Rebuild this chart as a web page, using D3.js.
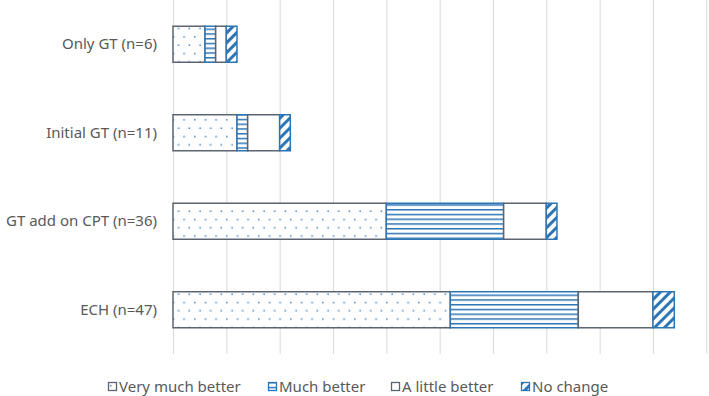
<!DOCTYPE html>
<html>
<head>
<meta charset="utf-8">
<script src="https://cdn.jsdelivr.net/npm/d3@7"></script>
<style>
  html, body { margin: 0; padding: 0; background: #fff; }
  svg { display: block; }
  text { font-family: "Noto Sans", "Open Sans", sans-serif; fill: #595959; }
</style>
</head>
<body>
<svg id="chart" width="709" height="396"></svg>
<script>
// ---- data ----
const categories = ["Only GT (n=6)", "Initial GT (n=11)", "GT add on CPT (n=36)", "ECH (n=47)"];
const seriesNames = ["Very much better", "Much better", "A little better", "No change"];
const veryMuchBetter = [3, 6, 20, 26];
const muchBetter = [1, 1, 11, 12];
const aLittleBetter = [1, 3, 4, 7];
const noChange = [1, 1, 1, 2];
const xTicks = [0, 5, 10, 15, 20, 25, 30, 35, 40, 45, 50];

const seriesValues = [veryMuchBetter, muchBetter, aLittleBetter, noChange];
const rows = categories.map((c, i) => {
  const r = { cat: c };
  seriesNames.forEach((s, j) => r[s] = seriesValues[j][i]);
  return r;
});

const svg = d3.select("#chart");
const defs = svg.append("defs");
const blue = "#2E75B6";
const gray = "#5B6470";

// patterns
const pDots = defs.append("pattern").attr("id", "pDots").attr("patternUnits", "userSpaceOnUse")
  .attr("width", 10.67).attr("height", 16.6);
pDots.append("rect").attr("width", 10.67).attr("height", 16.6).attr("fill", "#fff");
pDots.append("rect").attr("x", 2).attr("y", 3).attr("width", 1.4).attr("height", 1.4).attr("fill", blue);
pDots.append("rect").attr("x", 7.3).attr("y", 11.3).attr("width", 1.4).attr("height", 1.4).attr("fill", blue);

const pLines = defs.append("pattern").attr("id", "pLines").attr("patternUnits", "userSpaceOnUse")
  .attr("width", 8).attr("height", 4.75);
pLines.append("rect").attr("width", 8).attr("height", 4.75).attr("fill", "#fff");
pLines.append("rect").attr("y", 0).attr("width", 8).attr("height", 1.5).attr("fill", blue);

const pDiag = defs.append("pattern").attr("id", "pDiag").attr("patternUnits", "userSpaceOnUse")
  .attr("width", 7).attr("height", 7).attr("patternTransform", "rotate(45)");
pDiag.append("rect").attr("width", 7).attr("height", 7).attr("fill", "#fff");
pDiag.append("rect").attr("width", 3).attr("height", 7).attr("fill", blue);

const fills = ["url(#pDots)", "url(#pLines)", "#fff", "url(#pDiag)"];
const strokes = [gray, blue, gray, blue];

// scales
const x = d3.scaleLinear().domain([0, 50]).range([173, 706.3]);
const y = d3.scaleBand().domain(categories).range([0, 354]).paddingInner(0.593).paddingOuter(0.2965);

// gridlines
const grid = d3.axisBottom(x).tickValues(xTicks).tickSize(-354).tickFormat("");
const gG = svg.append("g").attr("transform", "translate(0,354)").call(grid);
gG.select(".domain").remove();
gG.selectAll(".tick line").attr("stroke", "#D9D9D9").attr("stroke-width", 1);

// stacked bars
const stack = d3.stack().keys(seriesNames)(rows);
stack.forEach((layer, j) => {
  svg.append("g").selectAll("rect").data(layer).join("rect")
    .attr("x", d => x(d[0]))
    .attr("y", d => y(d.data.cat))
    .attr("width", d => x(d[1]) - x(d[0]))
    .attr("height", y.bandwidth())
    .attr("fill", fills[j])
    .attr("stroke", strokes[j])
    .attr("stroke-width", 1.5);
});

// y labels
const yAxis = d3.axisLeft(y).tickSize(0).tickPadding(0);
const gY = svg.append("g").attr("transform", "translate(157,0)").call(yAxis);
gY.select(".domain").remove();
gY.selectAll("text").attr("font-size", 15).attr("font-family", "'Noto Sans', sans-serif").attr("fill", "#595959");

// legend
const legendX = [108, 268, 391, 521];
const lg = svg.append("g");
seriesNames.forEach((s, j) => {
  const g = lg.append("g").attr("transform", `translate(${legendX[j]},382)`);
  g.append("rect").attr("x", 0.5).attr("y", 0.5).attr("width", 8).attr("height", 8)
    .attr("fill", fills[j]).attr("stroke", strokes[j]).attr("stroke-width", 1.3);
  g.append("text").attr("x", 11).attr("y", 9.5).attr("font-size", 15).text(s);
});
</script>
</body>
</html>
